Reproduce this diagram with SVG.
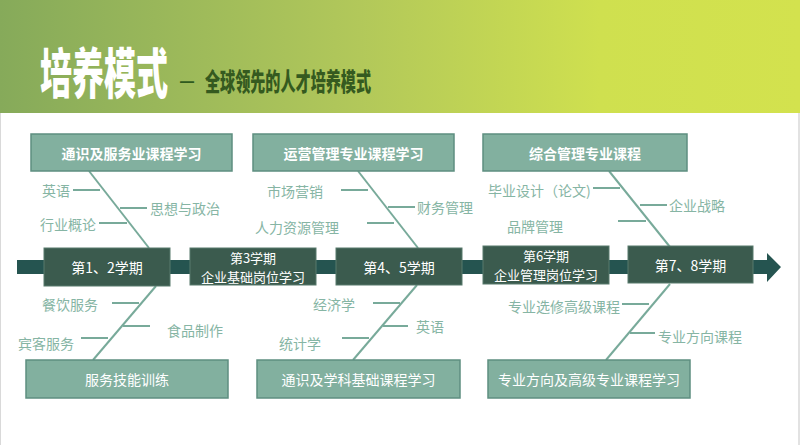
<svg xmlns="http://www.w3.org/2000/svg" width="800" height="445" viewBox="0 0 800 445">
<defs>
<linearGradient id="hdr" x1="0" y1="0" x2="1" y2="0">
<stop offset="0" stop-color="#86aa5a"/>
<stop offset="0.45" stop-color="#b2c85a"/>
<stop offset="0.75" stop-color="#cfe04f"/>
<stop offset="1" stop-color="#d3e24e"/>
</linearGradient>
<style>
.cjk{font-family:"Noto Sans CJK SC","Noto Sans",sans-serif}
.top rect{fill:#82b09f;stroke:#5e8e80;stroke-width:1.5}
.top text{fill:#fff;font-size:14px;font-weight:bold;text-anchor:middle;dominant-baseline:central}
.bot rect{fill:#82b09f;stroke:#5e8e80;stroke-width:1.5}
.bot text{fill:#fff;font-size:14px;text-anchor:middle;dominant-baseline:central}
.sem rect{fill:#3b5b4e;stroke:#587a6c;stroke-width:1}
.sem text{fill:#fff;font-size:14px;text-anchor:middle;dominant-baseline:central}
.sem text.two{font-size:13px}
.lbl text{fill:#86b5a4;font-size:14px;dominant-baseline:central}
.bone{stroke:#78aa9a;stroke-width:2;fill:none}
</style>
</defs>
<rect x="0" y="0" width="800" height="445" fill="#fff"/>
<rect x="0" y="0" width="800" height="113" fill="url(#hdr)"/>
<line x1="0.5" y1="113" x2="0.5" y2="445" stroke="#d9d9d9" stroke-width="1"/>
<line x1="799" y1="113" x2="799" y2="445" stroke="#d9d9d9" stroke-width="1.5"/>
<g id="title">
<text class="cjk" transform="translate(40,71) scale(0.593,1)" x="0" y="0" font-size="54" font-weight="900" fill="#fff" dominant-baseline="central">培养模式</text>
<text transform="translate(180,80) scale(0.78,1)" x="0" y="0" font-family="Liberation Sans,sans-serif" font-size="18" font-weight="bold" fill="#2f5a1e" dominant-baseline="central">—</text>
<text class="cjk" transform="translate(205,80) scale(0.604,1)" x="0" y="0" font-size="25" font-weight="900" fill="#355a1f" dominant-baseline="central">全球领先的人才培养模式</text>
</g>
<g id="connectors">
<polygon points="17,260 767,260 767,253 781,267 767,282 767,274 17,274" fill="#255450"/>
<line class="bone" x1="89" y1="171" x2="149" y2="248"/>
<line class="bone" x1="73" y1="190" x2="100" y2="190"/>
<line class="bone" x1="120" y1="208" x2="147" y2="208"/>
<line class="bone" x1="99" y1="223" x2="127" y2="223"/>
<line class="bone" x1="358" y1="171" x2="418" y2="248"/>
<line class="bone" x1="341" y1="190" x2="368" y2="190"/>
<line class="bone" x1="388" y1="207" x2="415" y2="207"/>
<line class="bone" x1="367" y1="223" x2="394" y2="223"/>
<line class="bone" x1="609" y1="171" x2="670" y2="247"/>
<line class="bone" x1="593" y1="188" x2="620" y2="188"/>
<line class="bone" x1="640" y1="205" x2="667" y2="205"/>
<line class="bone" x1="618" y1="221" x2="646" y2="221"/>
<line class="bone" x1="156" y1="286" x2="93" y2="360"/>
<line class="bone" x1="112" y1="303" x2="139" y2="303"/>
<line class="bone" x1="123" y1="326" x2="150" y2="326"/>
<line class="bone" x1="81" y1="338" x2="108" y2="338"/>
<line class="bone" x1="417" y1="285" x2="353" y2="360"/>
<line class="bone" x1="373" y1="303" x2="400" y2="303"/>
<line class="bone" x1="383" y1="326" x2="408" y2="326"/>
<line class="bone" x1="342" y1="338" x2="369" y2="338"/>
<line class="bone" x1="670" y1="284" x2="606" y2="360"/>
<line class="bone" x1="622" y1="304" x2="649" y2="304"/>
<line class="bone" x1="630" y1="333" x2="655" y2="333"/>
</g>
<g class="cjk">
<g id="top1" class="top"><rect x="31" y="134" width="201" height="37"/><text x="131.5" y="153">通识及服务业课程学习</text></g>
<g id="top2" class="top"><rect x="253" y="134" width="201" height="37"/><text x="353.5" y="153">运营管理专业课程学习</text></g>
<g id="top3" class="top"><rect x="483" y="134" width="204" height="37"/><text x="585" y="153">综合管理专业课程</text></g>
<g id="bot1" class="bot"><rect x="26" y="360" width="202" height="38"/><text x="127" y="379">服务技能训练</text></g>
<g id="bot2" class="bot"><rect x="257" y="360" width="203" height="38"/><text x="358.5" y="379">通识及学科基础课程学习</text></g>
<g id="bot3" class="bot"><rect x="488" y="360" width="202" height="38"/><text x="589" y="379">专业方向及高级专业课程学习</text></g>
<g id="sem12" class="sem"><rect x="44" y="248" width="126" height="38"/><text x="107" y="267">第1、2学期</text></g>
<g id="sem3" class="sem"><rect x="190" y="248" width="126" height="37"/><text class="two" x="253" y="257">第3学期</text><text class="two" x="253" y="276">企业基础岗位学习</text></g>
<g id="sem45" class="sem"><rect x="336" y="248" width="126" height="37"/><text x="399" y="267">第4、5学期</text></g>
<g id="sem6" class="sem"><rect x="483" y="246" width="126" height="38"/><text class="two" x="546" y="255.5">第6学期</text><text class="two" x="546" y="274.5">企业管理岗位学习</text></g>
<g id="sem78" class="sem"><rect x="628" y="246" width="125" height="37"/><text x="690.5" y="265">第7、8学期</text></g>
<g id="l-yingyu1" class="lbl"><text x="42" y="190">英语</text></g>
<g id="l-sixiang" class="lbl"><text x="150" y="208">思想与政治</text></g>
<g id="l-hangye" class="lbl"><text x="40" y="224">行业概论</text></g>
<g id="l-shichang" class="lbl"><text x="267" y="191">市场营销</text></g>
<g id="l-caiwu" class="lbl"><text x="417" y="207">财务管理</text></g>
<g id="l-renli" class="lbl"><text x="255" y="227">人力资源管理</text></g>
<g id="l-biye" class="lbl"><text x="488" y="190">毕业设计（论文)</text></g>
<g id="l-qiye" class="lbl"><text x="669" y="205">企业战略</text></g>
<g id="l-pinpai" class="lbl"><text x="507" y="226">品牌管理</text></g>
<g id="l-canyin" class="lbl"><text x="42" y="304">餐饮服务</text></g>
<g id="l-shipin" class="lbl"><text x="167" y="330">食品制作</text></g>
<g id="l-binke" class="lbl"><text x="18" y="343">宾客服务</text></g>
<g id="l-jingji" class="lbl"><text x="313" y="304">经济学</text></g>
<g id="l-yingyu2" class="lbl"><text x="416" y="326">英语</text></g>
<g id="l-tongji" class="lbl"><text x="279" y="343">统计学</text></g>
<g id="l-xuanxiu" class="lbl"><text x="508" y="306">专业选修高级课程</text></g>
<g id="l-fangxiang" class="lbl"><text x="658" y="336">专业方向课程</text></g>
</g>
</svg>
